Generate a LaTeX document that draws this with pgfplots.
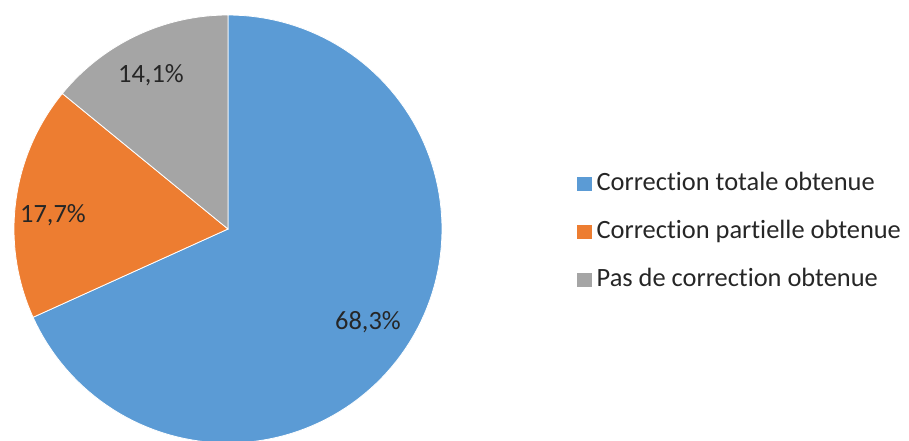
\documentclass[border=0pt]{standalone}
\usepackage{pgfplots}
\pgfplotsset{compat=1.18}
\usepackage{fontspec}
\setmainfont[Ligatures={NoCommon}]{Carlito}
\definecolor{pieblue}{HTML}{5B9BD5}
\definecolor{pieorange}{HTML}{ED7D31}
\definecolor{piegray}{HTML}{A5A5A5}
% data (percent)
\def\va{68.3}\def\vb{17.7}\def\vc{14.1}
\pgfmathsetmacro\tot{\va+\vb+\vc}
\pgfmathsetmacro\aA{90}
\pgfmathsetmacro\aB{90-\va/\tot*360}
\pgfmathsetmacro\aC{\aB-\vb/\tot*360}
\pgfmathsetmacro\aD{\aC-\vc/\tot*360}
\begin{document}
\begin{tikzpicture}
\useasboundingbox (0,0) rectangle (681.75pt,330pt);
\begin{axis}[
  scale only axis, width=681.75pt, height=330pt,
  xmin=0, xmax=909, ymin=0, ymax=440,
  hide axis, clip=true,
  font=\fontsize{19.8}{23}\selectfont,
  legend image code/.code={\fill[#1,draw=none] (0pt,-5.6pt) rectangle (11.25pt,5.6pt);},
  legend style={at={(axis cs:577,208)}, anchor=west, draw=none, fill=none,
    inner sep=0pt, outer sep=0pt,
    cells={anchor=west}, row sep=20pt,
    nodes={inner sep=0pt, outer sep=0pt, text height=13pt, text depth=3pt, font=\fontsize{19.8}{23}\selectfont, text=black!85}},
]
\addplot[fill=pieblue, draw=white, line width=0.6pt, domain=\aA:\aB, samples=120]
  ({228+214*cos(x)},{211+214*sin(x)}) -- (axis cs:228,211) -- cycle;
\addlegendentry{\hspace{3.5pt}Correction totale obtenue}
\addplot[fill=pieorange, draw=white, line width=0.6pt, domain=\aB:\aC, samples=60]
  ({228+214*cos(x)},{211+214*sin(x)}) -- (axis cs:228,211) -- cycle;
\addlegendentry{\hspace{3.5pt}Correction partielle obtenue}
\addplot[fill=piegray, draw=white, line width=0.6pt, domain=\aC:\aD, samples=60]
  ({228+214*cos(x)},{211+214*sin(x)}) -- (axis cs:228,211) -- cycle;
\addlegendentry{\hspace{3.5pt}Pas de correction obtenue}
\node[text=black!85] at (axis cs:368,118) {68,3\%};
\node[text=black!85] at (axis cs:53,225) {17,7\%};
\node[text=black!85] at (axis cs:151,365) {14,1\%};
\end{axis}
\end{tikzpicture}
\end{document}
